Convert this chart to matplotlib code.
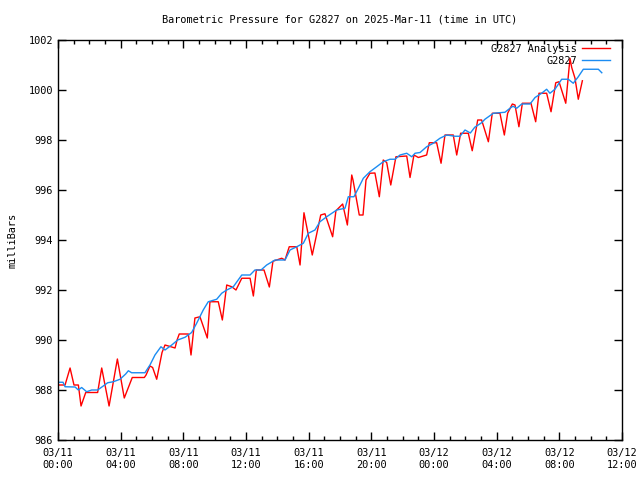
import matplotlib
matplotlib.use("Agg")
import matplotlib.pyplot as plt
from matplotlib.ticker import MultipleLocator

# hours after 2025-03-11 00:00 UTC, pressure in millibars
analysis_hours = [0.0, 0.45, 0.77, 1.02, 1.3, 1.47, 1.77, 2.53, 2.79, 3.26,
                  3.79, 4.23, 4.74, 5.51, 5.62, 5.87, 6.04, 6.3, 6.64, 6.83,
                  7.26, 7.47, 7.6, 7.74, 8.32, 8.49, 8.74, 9.06, 9.53, 9.7,
                  10.23, 10.49, 10.77, 11.09, 11.36, 11.73, 12.26, 12.47, 12.66, 13.15,
                  13.49, 13.72, 14.28, 14.49, 14.76, 15.24, 15.45, 15.7, 16.23, 16.77,
                  17.04, 17.53, 17.74, 18.17, 18.47, 18.75, 18.83, 19.23, 19.47, 19.66,
                  19.91, 20.23, 20.51, 20.76, 20.98, 21.24, 21.57, 22.26, 22.47, 22.72,
                  23.0, 23.53, 23.7, 24.17, 24.45, 24.7, 25.23, 25.45, 25.7, 26.19,
                  26.44, 26.79, 27.04, 27.47, 27.72, 28.21, 28.49, 28.7, 29.0, 29.17,
                  29.42, 29.64, 30.19, 30.49, 30.7, 31.19, 31.47, 31.77, 31.98, 32.41,
                  32.68, 32.79, 33.0, 33.21, 33.47]
analysis_mb = [988.2, 988.2, 988.88, 988.2, 988.2, 987.36, 987.9, 987.9, 988.88, 987.36,
               989.24, 987.68, 988.5, 988.5, 988.6, 988.96, 988.9, 988.43, 989.5, 989.8,
               989.72, 989.68, 990.0, 990.24, 990.24, 989.4, 990.88, 990.93, 990.08, 991.53,
               991.53, 990.8, 992.2, 992.13, 992.0, 992.47, 992.47, 991.76, 992.8, 992.8,
               992.12, 993.15, 993.27, 993.2, 993.73, 993.73, 993.0, 995.09, 993.4, 995.0,
               995.05, 994.13, 995.17, 995.44, 994.6, 996.6, 996.4, 995.0, 995.0, 996.4,
               996.67, 996.68, 995.73, 997.2, 997.1, 996.2, 997.33, 997.36, 996.5, 997.4,
               997.3, 997.4, 997.89, 997.89, 997.07, 998.2, 998.2, 997.4, 998.27, 998.27,
               997.57, 998.8, 998.8, 997.93, 999.07, 999.07, 998.2, 999.07, 999.44, 999.4,
               998.53, 999.47, 999.47, 998.73, 999.87, 999.87, 999.13, 1000.29, 1000.33, 999.47,
               1001.27, 1000.9, 1000.47, 999.63, 1000.37]

station_hours = [0.0, 0.32, 0.45, 1.09, 1.3, 1.51, 1.83, 2.15, 2.53, 2.89,
                 3.17, 3.53, 3.96, 4.32, 4.49, 4.7, 5.55, 5.87, 6.19, 6.57,
                 6.83, 7.26, 7.64, 8.11, 8.53, 8.85, 9.27, 9.59, 10.13, 10.45,
                 10.77, 11.19, 11.73, 12.26, 12.57, 12.96, 13.32, 13.85, 14.49, 14.81,
                 15.24, 15.66, 15.98, 16.4, 16.72, 17.15, 17.79, 18.32, 18.53, 18.89,
                 19.17, 19.49, 19.91, 20.34, 20.76, 21.19, 21.51, 21.83, 22.26, 22.58,
                 22.79, 23.11, 23.53, 23.95, 24.38, 24.81, 25.34, 25.66, 25.98, 26.32,
                 26.6, 27.04, 27.25, 27.79, 28.53, 28.85, 29.04, 29.28, 29.6, 30.13,
                 30.45, 30.87, 31.19, 31.4, 31.72, 32.15, 32.57, 32.89, 33.21, 33.53,
                 34.49, 34.71]
station_mb = [988.31, 988.31, 988.13, 988.12, 988.0, 988.1, 987.93, 988.0, 988.0, 988.16,
              988.29, 988.33, 988.43, 988.64, 988.77, 988.69, 988.69, 989.0, 989.4, 989.73,
              989.6, 989.8, 990.0, 990.11, 990.3, 990.67, 991.2, 991.53, 991.63, 991.87,
              992.0, 992.13, 992.6, 992.6, 992.8, 992.8, 993.0, 993.2, 993.2, 993.6,
              993.73, 993.87, 994.27, 994.4, 994.73, 994.93, 995.2, 995.27, 995.73, 995.73,
              996.07, 996.47, 996.73, 996.93, 997.13, 997.23, 997.23, 997.4, 997.47, 997.33,
              997.47, 997.5, 997.73, 997.87, 998.07, 998.2, 998.15, 998.15, 998.4, 998.28,
              998.51, 998.69, 998.83, 999.07, 999.11, 999.27, 999.35, 999.27, 999.44, 999.44,
              999.7, 999.87, 1000.03, 999.87, 1000.03, 1000.43, 1000.43, 1000.27, 1000.53, 1000.83,
              1000.83, 1000.69]

tick_hours = [0, 4, 8, 12, 16, 20, 24, 28, 32, 36]
tick_labels = ["03/11\n00:00", "03/11\n04:00", "03/11\n08:00", "03/11\n12:00",
               "03/11\n16:00", "03/11\n20:00", "03/12\n00:00", "03/12\n04:00",
               "03/12\n08:00", "03/12\n12:00"]

plt.rcParams['font.family'] = ['DejaVu Sans Mono']
plt.rcParams['font.size'] = 7.4

fig = plt.figure(figsize=(6.4, 4.8), dpi=100)
ax = fig.add_axes([58 / 640, 40 / 480, 564 / 640, 400 / 480])

ax.plot(analysis_hours, analysis_mb, color='#ff0000', lw=1, label='G2827 Analysis')
ax.plot(station_hours, station_mb, color='#1b8cf2', lw=1, label='G2827')

ax.set_xlim(0, 36)
ax.set_ylim(986, 1002)
ax.set_xticks(tick_hours)
ax.set_xticklabels(tick_labels)
ax.xaxis.set_minor_locator(MultipleLocator(1))
ax.set_yticks(range(986, 1003, 2))
ax.tick_params(direction='in', which='both', top=True, right=True, length=6, width=1)
ax.tick_params(which='minor', length=3)
ax.tick_params(axis='x', pad=6)
for s in ax.spines.values():
    s.set_linewidth(1)

ax.set_ylabel('milliBars', labelpad=8)
fig.text(340 / 640, 1 - 20 / 480, 'Barometric Pressure for G2827 on 2025-Mar-11 (time in UTC)',
         ha='center', va='center')

leg = ax.legend(loc='upper right', bbox_to_anchor=(0.982, 0.995), frameon=False,
                markerfirst=False, handlelength=2.7, borderaxespad=0, borderpad=0.2,
                labelspacing=0.15, handletextpad=0.5)
for t in leg.get_texts():
    t.set_ha('right')

fig.savefig('out.png', dpi=100)
